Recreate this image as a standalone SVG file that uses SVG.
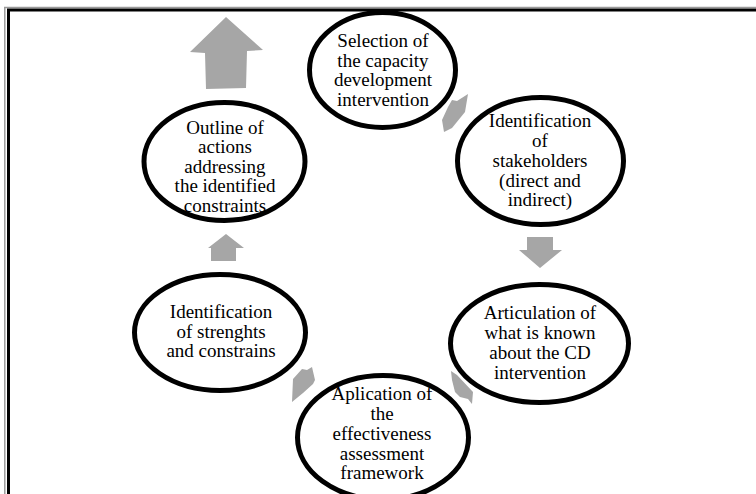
<svg xmlns="http://www.w3.org/2000/svg" width="756" height="494" viewBox="0 0 756 494">
<style>
.node{fill:#fff;stroke:#000;stroke-width:5}
.t{font-size:19px;fill:#000;text-anchor:middle}
.arr{fill:#a6a6a6;stroke:none}
</style>
<rect width="756" height="494" fill="#fff"/>
<g id="frame">
<line x1="4" y1="7.5" x2="756" y2="7.5" stroke="#9a9a9a" stroke-width="1.5"/>
<line x1="4.8" y1="7" x2="4.8" y2="494" stroke="#9a9a9a" stroke-width="1.5"/>
<line x1="7" y1="10" x2="756" y2="10" stroke="#000" stroke-width="3"/>
<line x1="8.5" y1="9" x2="8.5" y2="494" stroke="#000" stroke-width="3"/>
</g>
<g id="connectors">
<polygon class="arr" points="226,17 263,50 247,51 246,88 206,89 205,53 190,52"/>
<polygon class="arr" points="452,100 457,101 468,94 465,112 452,128 444,132 442,120 448,107"/>
<polygon class="arr" points="527,237 553,237 553,250 562,250 540,268 519,250 527,250"/>
<polygon class="arr" points="451,371 457,375 473,392 472,404 468,399 460,397 455,392 452,380"/>
<polygon class="arr" points="312,367 315,380 313,384 303,393 292,402 293,379 302,369 307,370"/>
<polygon class="arr" points="226,234 244,248 236,248 236,261 211,261 211,248 208,248"/>
</g>
<g font-family="Liberation Serif, Times New Roman, serif">
<g id="n1">
<ellipse class="node" cx="382.5" cy="70" rx="73" ry="57.5"/>
<text class="t" x="383" y="47">Selection of</text>
<text class="t" x="383" y="66.5">the capacity</text>
<text class="t" x="383" y="86">development</text>
<text class="t" x="383" y="105.5">intervention</text>
</g>
<g id="n2">
<ellipse class="node" cx="540.5" cy="161" rx="83" ry="63.5"/>
<text class="t" x="540" y="127">Identification</text>
<text class="t" x="540" y="147">of</text>
<text class="t" x="540" y="167">stakeholders</text>
<text class="t" x="540" y="186.5">(direct and</text>
<text class="t" x="540" y="206">indirect)</text>
</g>
<g id="n3">
<ellipse class="node" cx="539.5" cy="343.5" rx="89" ry="59"/>
<text class="t" x="540" y="319">Articulation of</text>
<text class="t" x="540" y="339">what is known</text>
<text class="t" x="540" y="359">about the CD</text>
<text class="t" x="540" y="379">intervention</text>
</g>
<g id="n4">
<ellipse class="node" cx="383" cy="437.5" rx="85.5" ry="62"/>
<text class="t" x="382" y="400">Aplication of</text>
<text class="t" x="382" y="420">the</text>
<text class="t" x="382" y="440">effectiveness</text>
<text class="t" x="382" y="460">assessment</text>
<text class="t" x="382" y="479">framework</text>
</g>
<g id="n5">
<ellipse class="node" cx="220" cy="332.5" rx="85.5" ry="58"/>
<text class="t" x="221" y="318">Identification</text>
<text class="t" x="221" y="338">of strenghts</text>
<text class="t" x="221" y="357">and constrains</text>
</g>
<g id="n6">
<ellipse class="node" cx="224.5" cy="161.5" rx="80.5" ry="59"/>
<text class="t" x="225" y="133.5">Outline of</text>
<text class="t" x="225" y="153">actions</text>
<text class="t" x="225" y="172.5">addressing</text>
<text class="t" x="225" y="192">the identified</text>
<text class="t" x="225" y="211.5">constraints</text>
</g>
</g>
</svg>
